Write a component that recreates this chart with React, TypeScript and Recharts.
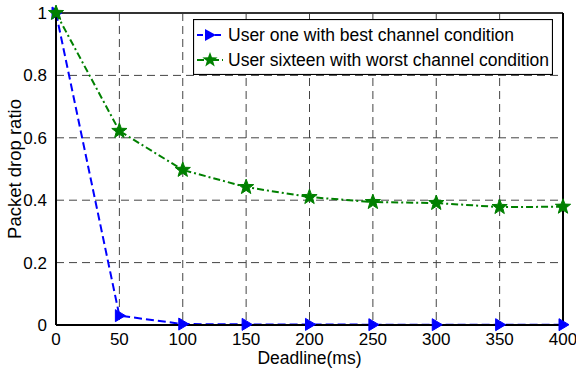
import React from "react";
import {
  LineChart,
  Line,
  XAxis,
  YAxis,
  CartesianGrid,
  ReferenceLine,
} from "recharts";

const deadlines = [0, 50, 100, 150, 200, 250, 300, 350, 400];
const bestUser = [1.0, 0.03, 0.003, 0.002, 0.002, 0.001, 0.001, 0.001, 0.001];
const worstUser = [1.0, 0.622, 0.497, 0.442, 0.41, 0.394, 0.391, 0.378, 0.379];
const xTicks = [0, 50, 100, 150, 200, 250, 300, 350, 400];
const yTicks = [0, 0.2, 0.4, 0.6, 0.8, 1];
const seriesNames = [
  "User one with best channel condition",
  "User sixteen with worst channel condition",
];
const yTitle = "Packet drop ratio";

const data = deadlines.map((d, i) => ({
  deadline: d,
  best: bestUser[i],
  worst: worstUser[i],
}));

const FONT = "'Liberation Sans', Arial, sans-serif";
const BLUE = "#0000ff";
const GREEN = "#008000";

function starPath(cx: number, cy: number, R: number, r: number) {
  let p = "";
  for (let k = 0; k < 10; k++) {
    const rad = k % 2 === 0 ? R : r;
    const a = -Math.PI / 2 + (k * Math.PI) / 5;
    p += (k === 0 ? "M" : "L") + (cx + rad * Math.cos(a)).toFixed(2) + "," + (cy + rad * Math.sin(a)).toFixed(2);
  }
  return p + "Z";
}

const TriangleDot = (props: any) => {
  const { cx, cy, index } = props;
  if (cx == null || cy == null) return <g key={index} />;
  return (
    <path
      key={index}
      d={`M${cx - 4},${cy - 6}L${cx + 6},${cy}L${cx - 4},${cy + 6}Z`}
      fill={BLUE}
      stroke={BLUE}
    />
  );
};

const StarDot = (props: any) => {
  const { cx, cy, index } = props;
  if (cx == null || cy == null) return <g key={index} />;
  return <path key={index} d={starPath(cx, cy, 8, 3.3)} fill={GREEN} stroke={GREEN} />;
};

// Rotated y-axis title, centred a little in from the axis band's left edge
const YTitle = (props: any) => {
  const vb = props.viewBox || {};
  const x = (vb.x ?? 0) + 14;
  const y = (vb.y ?? 0) + (vb.height ?? 0) / 2;
  return (
    <text
      x={x}
      y={y}
      transform={`rotate(-90, ${x}, ${y})`}
      textAnchor="middle"
      dominantBaseline="central"
      fontFamily={FONT}
      fontSize={18.5}
      fill="#000"
    >
      {yTitle}
    </text>
  );
};

const LegendBox = () => (
  <svg
    width={360}
    height={56}
    style={{ position: "absolute", left: 193, top: 19 }}
  >
    <rect x={0.5} y={0.5} width={359} height={55} fill="#fff" stroke="#000" strokeWidth={1.2} />
    <line x1={4} y1={16} x2={30} y2={16} stroke={BLUE} strokeWidth={2} strokeDasharray="6 3" />
    <path d="M12,10L23,16L12,22Z" fill={BLUE} />
    <text x={35} y={22} fontFamily={FONT} fontSize={17.5} fill="#000">
      {seriesNames[0]}
    </text>
    <line x1={4} y1={41} x2={30} y2={41} stroke={GREEN} strokeWidth={2} strokeDasharray="7 3 2 3" />
    <path d={starPath(17, 41, 8, 3.3)} fill={GREEN} />
    <text x={35} y={47} fontFamily={FONT} fontSize={17.5} fill="#000">
      {seriesNames[1]}
    </text>
  </svg>
);

export default function App() {
  return (
    <div style={{ position: "absolute", left: 0, top: 0, width: 576, height: 374, background: "#fff" }}>
      <LineChart
        width={576}
        height={374}
        data={data}
        margin={{ top: 13, right: 13, bottom: 0, left: 0 }}
      >
        <CartesianGrid stroke="#444" strokeDasharray="8 5" strokeWidth={1} />
        <XAxis
          dataKey="deadline"
          type="number"
          domain={[0, 400]}
          ticks={xTicks}
          height={49}
          axisLine={{ stroke: "#000", strokeWidth: 2 }}
          tickLine={false}
          tickMargin={2}
          tick={{ fill: "#000", fontSize: 17, fontFamily: FONT }}
          label={{
            value: "Deadline(ms)",
            position: "insideBottom",
            offset: 10,
            fill: "#000",
            fontSize: 17.5,
            fontFamily: FONT,
          }}
        />
        <YAxis
          type="number"
          domain={[0, 1]}
          ticks={yTicks}
          width={56}
          axisLine={{ stroke: "#000", strokeWidth: 2 }}
          tickLine={false}
          tickMargin={3}
          tickFormatter={(v: number) => String(v)}
          tick={{ fill: "#000", fontSize: 17, fontFamily: FONT }}
          label={<YTitle />}
        />
        <ReferenceLine y={1} stroke="#333" strokeWidth={2} />
        <ReferenceLine x={400} stroke="#000" strokeWidth={2} />
        <Line
          dataKey="best"
          name={seriesNames[0]}
          stroke={BLUE}
          strokeWidth={2}
          strokeDasharray="8 4"
          dot={<TriangleDot />}
          isAnimationActive={false}
        />
        <Line
          dataKey="worst"
          name={seriesNames[1]}
          stroke={GREEN}
          strokeWidth={2}
          strokeDasharray="7 3 2 3"
          dot={<StarDot />}
          isAnimationActive={false}
        />
      </LineChart>
      <LegendBox />
    </div>
  );
}
